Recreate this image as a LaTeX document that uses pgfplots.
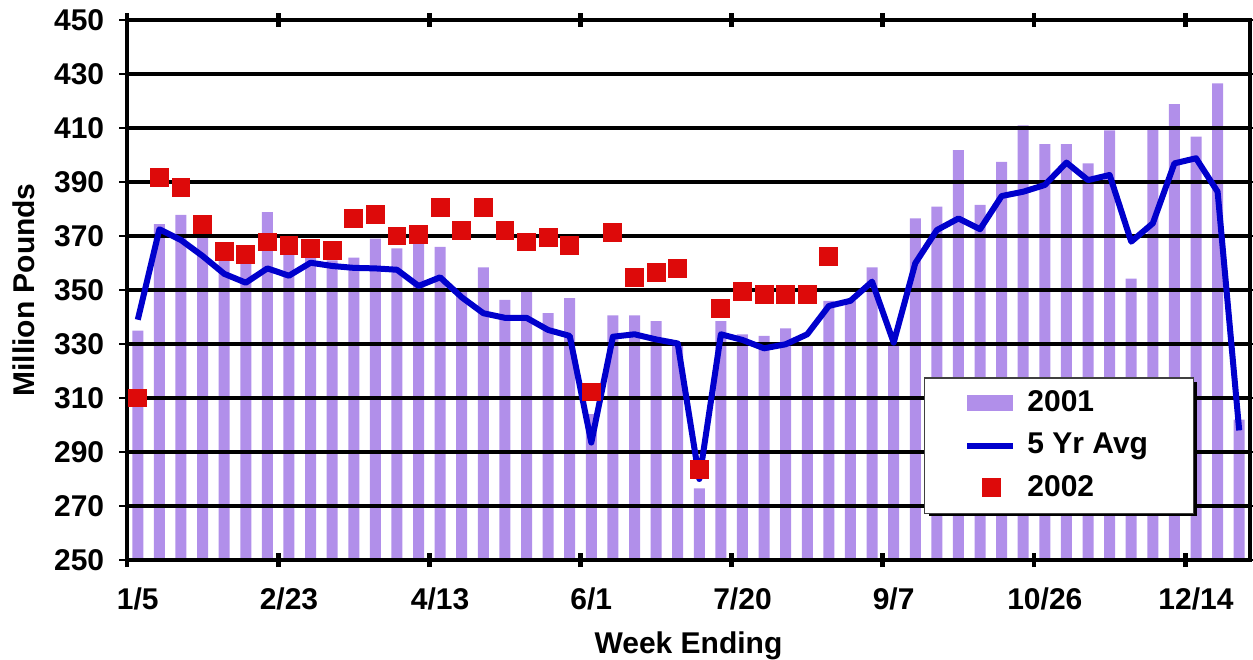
\documentclass[border=0pt]{standalone}
\usepackage{fontspec}
\setmainfont{Liberation Sans}
\usepackage{pgfplots}
\pgfplotsset{compat=1.18}
\definecolor{barpurple}{RGB}{177,143,234}
\definecolor{avgblue}{RGB}{0,0,204}
\definecolor{ptred}{RGB}{221,10,10}

\pgfplotstableread{
x y
0 335
1 374.4
2 377.8
3 372
4 362
5 360
6 378.8
7 364
8 363
9 361
10 362
11 369
12 365.4
13 368
14 366
15 350.5
16 358.4
17 346.3
18 350
19 341.4
20 347
21 304
22 340.6
23 340.6
24 338.5
25 330
26 276.5
27 338.5
28 333.6
29 333
30 335.8
31 330.2
32 346
33 346
34 358.4
35 330
36 376.5
37 380.9
38 401.8
39 381.5
40 397.5
41 411
42 404
43 404
44 396.9
45 409.1
46 354.2
47 409.7
48 418.8
49 406.8
50 426.5
51 302
}\bars

\pgfplotstableread{
x y
0 339
1 372.5
2 368.5
3 362.6
4 356
5 352.7
6 358
7 355.3
8 360.1
9 358.9
10 358.2
11 358
12 357.5
13 351.5
14 354.7
15 347.3
16 341.4
17 339.7
18 339.7
19 335.2
20 333
21 293.5
22 332.7
23 333.6
24 331.7
25 330.2
26 280
27 333.6
28 331.5
29 328.4
30 329.9
31 333.6
32 344.1
33 346
34 353.1
35 330.5
36 359.9
37 372.2
38 376.5
39 372.5
40 384.8
41 386.4
42 388.9
43 397.2
44 390.7
45 392.6
46 367.9
47 374.7
48 396.9
49 398.8
50 386.4
51 298
}\avg

\pgfplotstableread{
x y
0 310
1 391.8
2 388.1
3 374.2
4 364.4
5 363.1
6 367.8
7 366.5
8 365.3
9 364.6
10 376.5
11 377.9
12 370
13 370.5
14 380.5
15 372
16 380.6
17 372
18 367.8
19 369.4
20 366.5
21 312.2
22 371.4
23 354.6
24 356.5
25 357.9
26 283.4
27 343.2
28 349.6
29 348.4
30 348.4
31 348.4
32 362.5
}\yrtwo

\begin{document}
\begin{tikzpicture}[font=\fontsize{10.5}{12.6}\selectfont\bfseries]
\begin{axis}[
  set layers,
  scale only axis,
  width=393.05pt, height=189pt,
  xmin=-0.5, xmax=51.5, ymin=250, ymax=450,
  ytick={250,270,...,450},
  xtick={0,7,14,21,28,35,42,49},
  xticklabels={1/5,2/23,4/13,6/1,7/20,9/7,10/26,12/14},
  minor xtick={-0.5,6.5,13.5,20.5,27.5,34.5,41.5,48.5},
  ymajorgrids,
  major grid style={black, line width=1.4pt},
  axis line style={black, line width=1.5pt},
  tick align=center,
  major tick length=5.6pt,
  minor tick length=4.9pt,
  major x tick style={draw=none},
  minor x tick style={black, line width=1.7pt},
  major y tick style={black, line width=0.8pt},
  /pgf/number format/assume math mode=true,
  xticklabel style={anchor=base, yshift=-14.4pt},
  yticklabel style={anchor=east, inner xsep=0pt, xshift=-5pt},
  xlabel={Week Ending},
  ylabel={Million Pounds},
  every axis x label/.style={at={(axis description cs:0.5,-0.174)}, anchor=base},
  every axis y label/.style={at={(axis description cs:-0.0916,0.5)}, rotate=90, anchor=center},
  legend style={at={(0.7097,0.3385)}, anchor=north west, draw=black!75, line width=0.5pt,
    fill=white, inner xsep=13.9pt, inner ysep=2.5pt, row sep=2pt},
  legend cell align=left,
]
\addplot[ybar, bar width=3.85pt, bar shift=0pt, fill=barpurple, draw=none, on layer=axis background,
  legend image code/.code={\fill[barpurple] (0pt,-2.8pt) rectangle (16pt,2.8pt); \path[draw=none] (19pt,0pt);}]
  table[x=x,y=y] {\bars};
\addlegendentry{2001}
\addplot[avgblue, line width=2.1pt, line join=round, mark=none,
  legend image code/.code={\draw[avgblue, line width=2.1pt] (0pt,0pt) -- (16pt,0pt); \path[draw=none] (19pt,0pt);}]
  table[x=x,y=y] {\avg};
\addlegendentry{5 Yr Avg}
\addplot[only marks, mark=square*, mark size=3.1pt, color=ptred, mark options={fill=ptred, draw=none},
  legend image code/.code={\path[draw=none] (0pt,0pt) (19pt,0pt); \fill[ptred] (5.3pt,-3.1pt) rectangle (11.5pt,3.1pt);}]
  table[x=x,y=y] {\yrtwo};
\addlegendentry{2002}
\fill[black] (axis description cs:0.7142,0.0815) rectangle (axis description cs:0.9528,0.3296);
\coordinate (sw) at (rel axis cs:0,0);
\coordinate (ne) at (rel axis cs:1,1);
\end{axis}
\pgfresetboundingbox
\path ([shift={(-44.45pt,-34.65pt)}]sw) rectangle ([shift={(1.05pt,7pt)}]ne);
\end{tikzpicture}
\end{document}
